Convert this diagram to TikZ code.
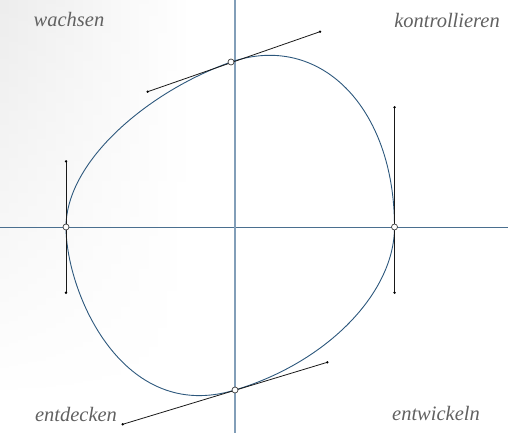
\documentclass[tikz,border=0pt]{standalone}
\usepackage{fontspec}
\setmainfont{Liberation Serif}
\usetikzlibrary{fadings}
\begin{document}
\begin{tikzpicture}[x=1pt,y=-1pt,
  lbl/.style={font=\fontsize{20.5}{24}\selectfont\itshape, text=black!62, inner sep=0pt},
  anchorpt/.style={circle, draw=black!75, fill=white, line width=0.7pt, minimum size=6pt, inner sep=0pt},
  handlept/.style={circle, fill=black, minimum size=2.6pt, inner sep=0pt},
  handleline/.style={draw=black!90, line width=0.8pt},
  curveline/.style={draw={rgb,255:red,45;green,88;blue,125}, line width=0.9pt}]
\useasboundingbox (0,0) rectangle (508,433);
% background shading
\shade[left color=black!8, right color=white, path fading=south] (0,-40) rectangle (190,400);
% axes
\draw[draw={rgb,255:red,74;green,111;blue,143}, line width=0.8pt] (0,227) -- (508,227);
\draw[draw={rgb,255:red,130;green,158;blue,184}, line width=1.8pt] (235,0) -- (235,433);
% anchors and handles
\coordinate (L) at (66,227);
\coordinate (T) at (231,62);
\coordinate (R) at (394.5,227);
\coordinate (B) at (235,390);
\coordinate (L1) at (66,161.3);
\coordinate (L2) at (66,292.7);
\coordinate (T1) at (147.7,91.7);
\coordinate (T2) at (320,31.7);
\coordinate (R1) at (394.5,107.3);
\coordinate (R2) at (394.5,292.7);
\coordinate (B1) at (327.3,362.3);
\coordinate (B2) at (122.7,424.3);
% curve
\draw[curveline] (L) .. controls (L1) and (T1) .. (T)
  .. controls (T2) and (R1) .. (R)
  .. controls (R2) and (B1) .. (B)
  .. controls (B2) and (L2) .. (L) -- cycle;
% handle lines
\draw[handleline] (L1) -- (L2);
\draw[handleline] (T1) -- (T2);
\draw[handleline] (R1) -- (R2);
\draw[handleline] (B1) -- (B2);
\foreach \p in {L1,L2,T1,T2,R1,R2,B1,B2} \node[handlept] (h\p) at (\p) {};
\foreach \p in {L,T,R,B} \node[anchorpt] (a\p) at (\p) {};
% labels
\node[lbl] (wachsen) at (69,19) {wachsen};
\node[lbl] (kontrollieren) at (447,20) {kontrollieren};
\node[lbl] (entdecken) at (76,414) {entdecken};
\node[lbl] (entwickeln) at (436,413) {entwickeln};
\end{tikzpicture}
\end{document}
